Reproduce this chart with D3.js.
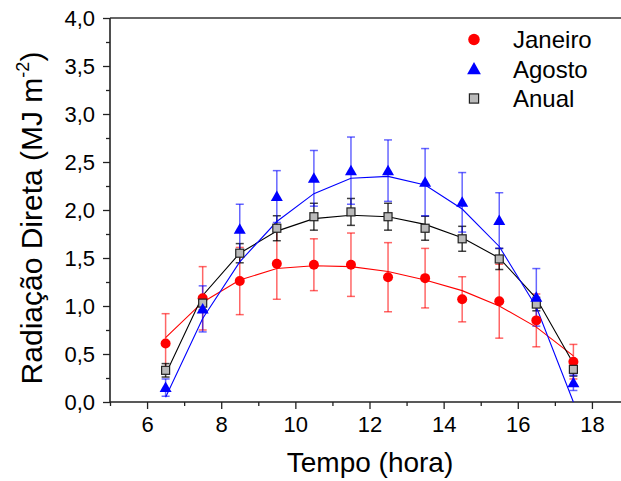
<!DOCTYPE html>
<html><head><meta charset="utf-8">
<script src="https://cdn.jsdelivr.net/npm/d3@7"></script>
<style>body{margin:0;background:#fff}svg{display:block}text{font-family:"Liberation Sans",Arial,sans-serif;fill:#000}</style>
</head><body>
<svg id="c" width="621" height="481"></svg>
<script>
const hours = [6.5,7.5,8.5,9.5,10.5,11.5,12.5,13.5,14.5,15.5,16.5,17.5];
const janeiro    = [0.61,1.08,1.26,1.44,1.43,1.43,1.30,1.29,1.07,1.05,0.85,0.42];
const janeiroErr = [0.31,0.33,0.35,0.37,0.27,0.33,0.36,0.31,0.235,0.385,0.275,0.18];
const janeiroFit = [0.67,1.04,1.27,1.39,1.42,1.41,1.36,1.27,1.16,1.00,0.78,0.48];
const agosto     = [0.15,0.97,1.80,2.14,2.33,2.41,2.41,2.29,2.08,1.89,1.09,0.20];
const agostoErr  = [0.09,0.24,0.26,0.27,0.29,0.35,0.32,0.35,0.31,0.29,0.30,0.08];
const agostoFit  = [0.05,0.87,1.46,1.88,2.17,2.33,2.35,2.26,2.01,1.62,0.99,0.00];
const anual      = [0.33,1.03,1.55,1.81,1.93,1.98,1.93,1.81,1.70,1.49,1.02,0.34];
const anualErr   = [0.07,0.07,0.10,0.13,0.14,0.14,0.14,0.125,0.13,0.11,0.07,0.07];
const anualFit   = [0.29,1.11,1.55,1.78,1.91,1.945,1.93,1.85,1.71,1.50,1.08,0.40];
const xTicks = [6,8,10,12,14,16,18];
const yTicks = [0,0.5,1,1.5,2,2.5,3,3.5,4];
const legendNames = ["Janeiro","Agosto","Anual"];

const svg = d3.select("#c");
const x = d3.scaleLinear().domain([5,19]).range([110,629]);
const y = d3.scaleLinear().domain([0,4]).range([402,18]);
const fmt = d => d3.format(".1f")(d).replace(".", ",");

// axes
const xAxis = d3.axisBottom(x).tickValues(xTicks).tickSize(7).tickPadding(7).tickFormat(d3.format("d"));
const xMinor = d3.axisBottom(x).tickValues([5,7,9,11,13,15,17,19]).tickSize(4).tickFormat("");
const gx = svg.append("g").attr("transform","translate(0,402)");
gx.call(xAxis); gx.append("g").call(xMinor);
const yAxis = d3.axisLeft(y).tickValues(yTicks).tickSize(7).tickPadding(8).tickFormat(fmt);
const yMinor = d3.axisLeft(y).tickValues(d3.range(0.25,4,0.5)).tickSize(4).tickFormat("");
const gy = svg.append("g").attr("transform","translate(110,0)");
gy.call(yAxis); gy.append("g").call(yMinor);
svg.selectAll(".domain").remove();
svg.selectAll(".tick line").attr("stroke","#222").attr("stroke-width",1.3);
svg.selectAll(".tick text").attr("font-size",22).attr("fill","#000").attr("font-family","Liberation Sans, Arial, sans-serif");
gx.selectAll(".tick text").attr("dy","0.71em");
// frame lines
svg.append("line").attr("x1",110).attr("x2",621).attr("y1",402).attr("y2",402).attr("stroke","#222").attr("stroke-width",1.6);
svg.append("line").attr("x1",110).attr("x2",621).attr("y1",18).attr("y2",18).attr("stroke","#333").attr("stroke-width",1.6);
svg.append("line").attr("x1",110).attr("x2",110).attr("y1",18).attr("y2",402).attr("stroke","#222").attr("stroke-width",1.6);

// titles
svg.append("text").attr("x",370).attr("y",472).attr("text-anchor","middle").attr("font-size",28).text("Tempo (hora)");
const yt = svg.append("text").attr("transform","translate(42,218) rotate(-90)").attr("text-anchor","middle").attr("font-size",30);
yt.append("tspan").text("Radiação Direta (MJ m");
yt.append("tspan").attr("font-size",18).attr("dy",-13).text("-2");
yt.append("tspan").attr("dy",13).text(")");

const series = [
  {name:"Janeiro", v:janeiro, e:janeiroErr, f:janeiroFit, color:"#ff0000", err:"rgba(255,0,0,0.6)"},
  {name:"Anual", v:anual, e:anualErr, f:anualFit, color:"#000000", err:"rgba(0,0,0,0.75)"},
  {name:"Agosto", v:agosto, e:agostoErr, f:agostoFit, color:"#0000ff", err:"rgba(0,0,255,0.6)"}
];
const plot = svg.append("g");
const line = d3.line().x((d,i)=>x(hours[i])).y(d=>y(d));
series.forEach(s=>{
  const g = plot.append("g");
  hours.forEach((h,i)=>{
    const x0 = x(h), y1 = y(s.v[i]+s.e[i]), y2 = y(s.v[i]-s.e[i]);
    g.append("line").attr("x1",x0).attr("x2",x0).attr("y1",y1).attr("y2",y2).attr("stroke",s.err).attr("stroke-width",1.5);
    g.append("line").attr("x1",x0-4).attr("x2",x0+4).attr("y1",y1).attr("y2",y1).attr("stroke",s.err).attr("stroke-width",1.5);
    g.append("line").attr("x1",x0-4).attr("x2",x0+4).attr("y1",y2).attr("y2",y2).attr("stroke",s.err).attr("stroke-width",1.5);
  });
});
series.forEach(s=>{
  plot.append("path").attr("d",line(s.f)).attr("fill","none").attr("stroke",s.color).attr("stroke-width",1.1);
});
function marker(g,name,cx,cy,scale){
  if(name==="Janeiro") g.append("circle").attr("cx",cx).attr("cy",cy).attr("r",5*scale).attr("fill","#ff0000");
  else if(name==="Agosto") { const w=6*scale, h=10*scale;
    g.append("path").attr("d",`M${cx},${cy-h*0.6}L${cx+w},${cy+h*0.45}L${cx-w},${cy+h*0.45}Z`).attr("fill","#0000ff"); }
  else { const a=4*scale; g.append("rect").attr("x",cx-a).attr("y",cy-a).attr("width",2*a).attr("height",2*a).attr("fill","#bababa").attr("stroke","#222").attr("stroke-width",1.2); }
}
series.forEach(s=>{
  hours.forEach((h,i)=>marker(plot,s.name,x(h),y(s.v[i]),1));
});

// legend
const lg = svg.append("g");
legendNames.forEach((n,i)=>{
  const cy = 39.5 + i*29.5;
  marker(lg,n,474,cy,1.15);
  lg.append("text").attr("x",513).attr("y",cy+8.5).attr("font-size",24).text(n);
});
</script>
</body></html>
